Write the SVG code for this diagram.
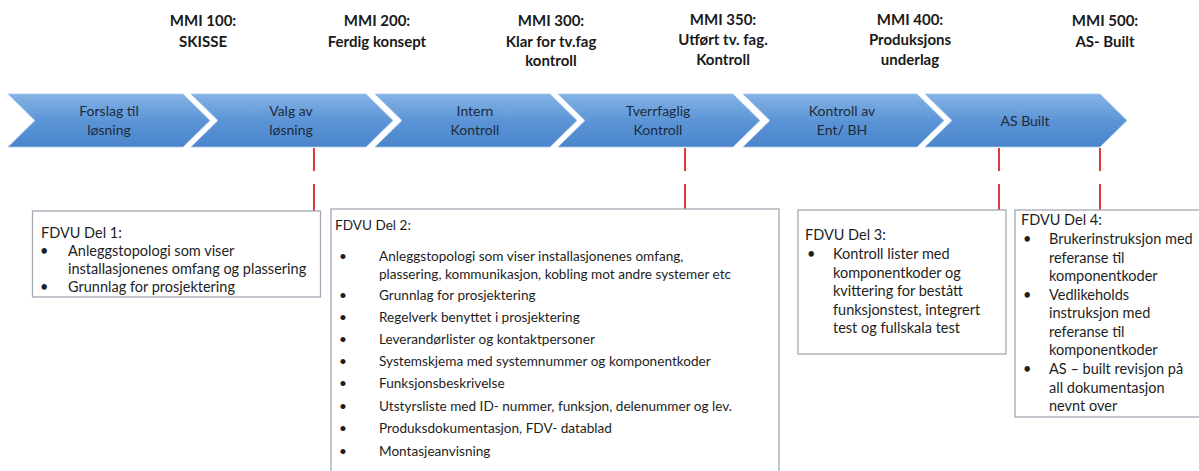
<svg xmlns="http://www.w3.org/2000/svg" width="1199" height="471" viewBox="0 0 1199 471">
  <defs>
    <linearGradient id="chevFill" x1="0" y1="0" x2="0" y2="1">
      <stop offset="0" stop-color="#84b3e5"/>
      <stop offset="0.5" stop-color="#5c95d6"/>
      <stop offset="1" stop-color="#4a85cc"/>
    </linearGradient>
  </defs>
  <style>
    .chev { fill: url(#chevFill); stroke: #a9c8ec; stroke-width: 0.8; }
    .chevText { font-family: Lato, "Liberation Sans", sans-serif; font-size: 14px; fill: #1c2b3b; text-anchor: middle; }
    .mmi { font-family: Lato, "Liberation Sans", sans-serif; font-size: 15px; font-weight: bold; fill: #1a1a1a; text-anchor: middle; }
    .box { fill: #ffffff; stroke: #a2aab4; stroke-width: 1.3; }
    .boxText { font-family: Lato, "Liberation Sans", sans-serif; font-size: 14.5px; fill: #1e1e1e; }
    .boxTextSm { font-family: Lato, "Liberation Sans", sans-serif; font-size: 13.6px; fill: #1e1e1e; }
    .link { fill: none; stroke: #e0393e; stroke-width: 2; }
  </style>

  <rect width="1199" height="471" fill="#ffffff"/>

  <!-- milestone headings -->
  <g id="mmi-100"><text class="mmi" x="203" y="26">MMI 100:</text><text class="mmi" x="203" y="46.5">SKISSE</text></g>
  <g id="mmi-200"><text class="mmi" x="377" y="26">MMI 200:</text><text class="mmi" x="377" y="46.5">Ferdig konsept</text></g>
  <g id="mmi-300"><text class="mmi" x="551" y="26">MMI 300:</text><text class="mmi" x="551" y="46.5">Klar for tv.fag</text><text class="mmi" x="551" y="66">kontroll</text></g>
  <g id="mmi-350"><text class="mmi" x="723" y="25">MMI 350:</text><text class="mmi" x="723" y="45">Utført tv. fag.</text><text class="mmi" x="723" y="64.5">Kontroll</text></g>
  <g id="mmi-400"><text class="mmi" x="910" y="25">MMI 400:</text><text class="mmi" x="910" y="45">Produksjons</text><text class="mmi" x="910" y="64.5">underlag</text></g>
  <g id="mmi-500"><text class="mmi" x="1105" y="26">MMI 500:</text><text class="mmi" x="1105" y="46.5">AS- Built</text></g>

  <!-- process chevrons -->
  <g id="step-forslag">
    <polygon class="chev" points="8,94 183,94 210,120.5 183,147 8,147 35,120.5"/>
    <text class="chevText" x="109" y="116">Forslag til</text><text class="chevText" x="109" y="134.5">løsning</text>
  </g>
  <g id="step-valg">
    <polygon class="chev" points="191,94 366,94 393,120.5 366,147 191,147 218,120.5"/>
    <text class="chevText" x="291" y="116">Valg av</text><text class="chevText" x="291" y="134.5">løsning</text>
  </g>
  <g id="step-intern">
    <polygon class="chev" points="375,94 550,94 577,120.5 550,147 375,147 402,120.5"/>
    <text class="chevText" x="475" y="116">Intern</text><text class="chevText" x="475" y="134.5">Kontroll</text>
  </g>
  <g id="step-tverrfaglig">
    <polygon class="chev" points="558,94 733,94 760,120.5 733,147 558,147 585,120.5"/>
    <text class="chevText" x="658" y="116">Tverrfaglig</text><text class="chevText" x="658" y="134.5">Kontroll</text>
  </g>
  <g id="step-kontroll-ent">
    <polygon class="chev" points="743,94 917,94 944,120.5 917,147 743,147 770,120.5"/>
    <text class="chevText" x="842" y="116">Kontroll av</text><text class="chevText" x="842" y="134.5">Ent/ BH</text>
  </g>
  <g id="step-as-built">
    <polygon class="chev" points="925,94 1100,94 1127,120.5 1100,147 925,147 952,120.5"/>
    <text class="chevText" x="1025" y="126">AS Built</text>
  </g>

  <!-- red dashed leaders from the timeline to the document boxes -->
  <g id="connectors">
    <path class="link" d="M314,148 V171 M314,184 V211"/>
    <path class="link" d="M685,148 V171 M685,184 V209"/>
    <path class="link" d="M999,148 V171 M999,184 V210"/>
    <path class="link" d="M1100,148 V171 M1100,184 V210"/>
  </g>

  <!-- FDVU document boxes -->
  <g id="fdvu-1">
    <rect class="box" x="32.5" y="211" width="288" height="86"/>
    <text class="boxText" x="41" y="238">FDVU Del 1:</text>
    <text class="boxText" x="40" y="256">•</text><text class="boxText" x="68" y="256">Anleggstopologi som viser</text>
    <text class="boxText" x="68" y="274">installasjonenes omfang og plassering</text>
    <text class="boxText" x="40" y="292">•</text><text class="boxText" x="68" y="292">Grunnlag for prosjektering</text>
  </g>

  <g id="fdvu-2">
    <rect class="box" x="331" y="209" width="448" height="280"/>
    <text class="boxTextSm" x="335" y="230">FDVU Del 2:</text>
    <text class="boxTextSm" x="339" y="261">•</text><text class="boxTextSm" x="379" y="261">Anleggstopologi som viser installasjonenes omfang,</text>
    <text class="boxTextSm" x="379" y="279">plassering, kommunikasjon, kobling mot andre systemer etc</text>
    <text class="boxTextSm" x="339" y="299.5">•</text><text class="boxTextSm" x="379" y="299.5">Grunnlag for prosjektering</text>
    <text class="boxTextSm" x="339" y="321.5">•</text><text class="boxTextSm" x="379" y="321.5">Regelverk benyttet i prosjektering</text>
    <text class="boxTextSm" x="339" y="343.5">•</text><text class="boxTextSm" x="379" y="343.5">Leverandørlister og kontaktpersoner</text>
    <text class="boxTextSm" x="339" y="366">•</text><text class="boxTextSm" x="379" y="366">Systemskjema med systemnummer og komponentkoder</text>
    <text class="boxTextSm" x="339" y="388">•</text><text class="boxTextSm" x="379" y="388">Funksjonsbeskrivelse</text>
    <text class="boxTextSm" x="339" y="410.5">•</text><text class="boxTextSm" x="379" y="410.5">Utstyrsliste med ID- nummer, funksjon, delenummer og lev.</text>
    <text class="boxTextSm" x="339" y="433">•</text><text class="boxTextSm" x="379" y="433">Produksdokumentasjon, FDV- datablad</text>
    <text class="boxTextSm" x="339" y="455.5">•</text><text class="boxTextSm" x="379" y="455.5">Montasjeanvisning</text>
  </g>

  <g id="fdvu-3">
    <rect class="box" x="798" y="210" width="208" height="144"/>
    <text class="boxText" x="805" y="240">FDVU Del 3:</text>
    <text class="boxText" x="807" y="259">•</text><text class="boxText" x="833" y="259">Kontroll lister med</text>
    <text class="boxText" x="833" y="278">komponentkoder og</text>
    <text class="boxText" x="833" y="296">kvittering for bestått</text>
    <text class="boxText" x="833" y="315">funksjonstest, integrert</text>
    <text class="boxText" x="833" y="333">test og fullskala test</text>
  </g>

  <g id="fdvu-4">
    <rect class="box" x="1015" y="210" width="200" height="207"/>
    <text class="boxText" x="1021" y="225">FDVU Del 4:</text>
    <text class="boxText" x="1023" y="244">•</text><text class="boxText" x="1049" y="244">Brukerinstruksjon med</text>
    <text class="boxText" x="1049" y="262.5">referanse til</text>
    <text class="boxText" x="1049" y="281">komponentkoder</text>
    <text class="boxText" x="1023" y="299.5">•</text><text class="boxText" x="1049" y="299.5">Vedlikeholds</text>
    <text class="boxText" x="1049" y="318">instruksjon med</text>
    <text class="boxText" x="1049" y="336.5">referanse til</text>
    <text class="boxText" x="1049" y="355">komponentkoder</text>
    <text class="boxText" x="1023" y="374">•</text><text class="boxText" x="1049" y="374">AS – built revisjon på</text>
    <text class="boxText" x="1049" y="392.5">all dokumentasjon</text>
    <text class="boxText" x="1049" y="411">nevnt over</text>
  </g>
</svg>
